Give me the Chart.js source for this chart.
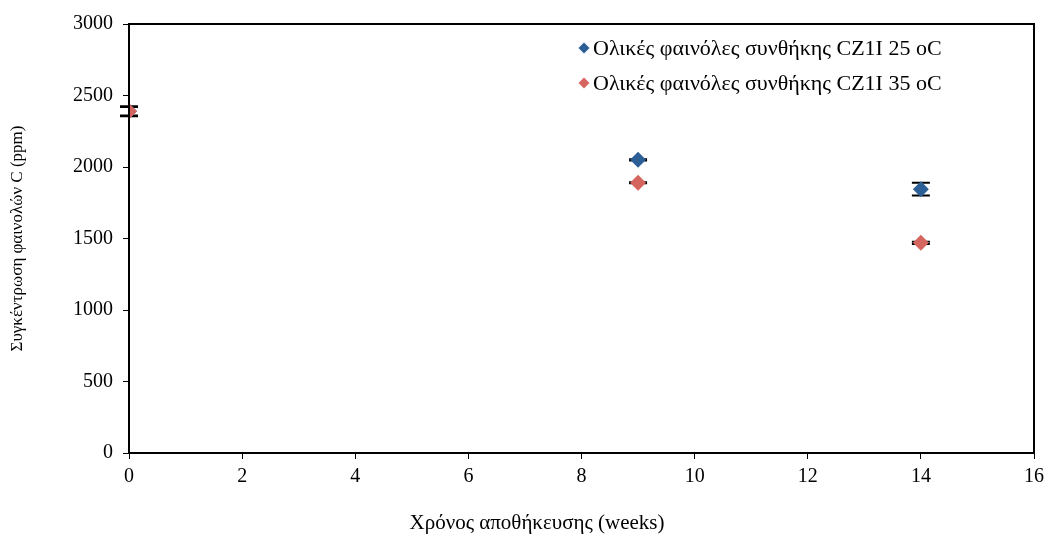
<!DOCTYPE html>
<html>
<head>
<meta charset="utf-8">
<script src="https://cdn.jsdelivr.net/npm/chart.js@4.4.1/dist/chart.umd.min.js"></script>
<style>
  html, body { margin: 0; padding: 0; background: #ffffff; }
  #wrap { width: 1047px; height: 538px; }
</style>
</head>
<body>
<div id="wrap"><canvas id="c" width="1047" height="538"></canvas></div>
<script>
// Storage time in weeks
const weeks = [0, 9, 14];
// Total phenols, condition CZ1I stored at 25 oC
const phenols25 = [2390, 2050, 1845];
const err25 = [35, 5, 45];
// Total phenols, condition CZ1I stored at 35 oC
const phenols35 = [2390, 1890, 1470];
const err35 = [30, 3, 8];

const labels25 = 'Ολικές φαινόλες συνθήκης CZ1I 25 oC';
const labels35 = 'Ολικές φαινόλες συνθήκης CZ1I 35 oC';
const xTitle = 'Χρόνος αποθήκευσης (weeks)';
const yTitle = 'Συγκέντρωση φαινολών C (ppm)';

const xTicks = [0, 2, 4, 6, 8, 10, 12, 14, 16];
const yTicks = [0, 500, 1000, 1500, 2000, 2500, 3000];

const FONT = 'Liberation Serif, Times New Roman, serif';

const toPoints = (xs, ys, es) => xs.map((x, i) => ({ x: x, y: ys[i], err: es[i] }));

// Vertical error bars with caps, drawn under the markers
const errorBars = {
  id: 'errorBars',
  beforeDatasetsDraw(chart) {
    const ctx = chart.ctx;
    const xs = chart.scales.x, ys = chart.scales.y;
    ctx.save();
    ctx.strokeStyle = '#000000';
    chart.data.datasets.forEach((ds) => {
      ds.data.forEach((p) => {
        const px = xs.getPixelForValue(p.x);
        const top = ys.getPixelForValue(p.y + p.err);
        const bot = ys.getPixelForValue(p.y - p.err);
        ctx.lineWidth = 1.5;
        ctx.beginPath();
        ctx.moveTo(px, top); ctx.lineTo(px, bot);
        ctx.stroke();
        ctx.lineWidth = 2;
        ctx.beginPath();
        ctx.moveTo(px - 9, top); ctx.lineTo(px + 9, top);
        ctx.moveTo(px - 9, bot); ctx.lineTo(px + 9, bot);
        ctx.stroke();
      });
    });
    ctx.restore();
  }
};

// Frame around the plot area, plus the horizontal axis caption
const frame = {
  id: 'frame',
  afterDraw(chart) {
    const a = chart.chartArea, ctx = chart.ctx;
    ctx.save();
    ctx.strokeStyle = '#000000';
    ctx.lineWidth = 2;
    ctx.strokeRect(a.left, a.top, a.right - a.left, a.bottom - a.top);
    ctx.fillStyle = '#000000';
    ctx.font = '21px ' + FONT;
    ctx.textAlign = 'center';
    ctx.textBaseline = 'middle';
    ctx.fillText(xTitle, 537, 523);
    ctx.restore();
  }
};

// Legend inside the plot, upper right
const innerLegend = {
  id: 'innerLegend',
  afterDraw(chart) {
    const ctx = chart.ctx;
    ctx.save();
    ctx.font = '22px ' + FONT;
    ctx.textBaseline = 'middle';
    ctx.textAlign = 'left';
    chart.data.datasets.forEach((ds, i) => {
      const y = 48 + i * 35;
      const mx = 584, r = 5.5;
      ctx.fillStyle = ds.backgroundColor;
      ctx.beginPath();
      ctx.moveTo(mx, y - r); ctx.lineTo(mx + r, y); ctx.lineTo(mx, y + r); ctx.lineTo(mx - r, y);
      ctx.closePath();
      ctx.fill();
      ctx.fillStyle = '#000000';
      ctx.fillText(ds.label, 593, y + 1);
    });
    ctx.restore();
  }
};

new Chart(document.getElementById('c'), {
  type: 'scatter',
  data: {
    datasets: [
      {
        label: labels25,
        data: toPoints(weeks, phenols25, err25),
        backgroundColor: '#2D5F97',
        borderColor: '#2D5F97',
        pointStyle: 'rectRot',
        pointRadius: 8,
        pointHoverRadius: 8,
        borderWidth: 0,
        order: 1
      },
      {
        label: labels35,
        data: toPoints(weeks, phenols35, err35),
        backgroundColor: '#D5665F',
        borderColor: '#D5665F',
        pointStyle: 'rectRot',
        pointRadius: 8,
        pointHoverRadius: 8,
        borderWidth: 0,
        order: 0
      }
    ]
  },
  options: {
    responsive: false,
    animation: false,
    layout: { padding: { left: 0, right: 13, top: 24, bottom: 0 } },
    plugins: {
      legend: { display: false },
      tooltip: { enabled: false }
    },
    scales: {
      x: {
        type: 'linear',
        min: 0, max: 16,
        afterBuildTicks(scale) { scale.ticks = xTicks.map(v => ({ value: v })); },
        afterFit(scale) {
          scale.height = 538 - 453;
          scale.paddingLeft = 0;
          scale.paddingRight = 0;
        },
        border: { display: true, color: '#000000', width: 2 },
        grid: { drawOnChartArea: false, drawTicks: true, tickLength: 6, color: '#000000', lineWidth: 1 },
        ticks: { color: '#000000', font: { family: FONT, size: 20 }, padding: 6, maxRotation: 0,
                 callback: (v) => String(v) },
        title: { display: false }
      },
      y: {
        type: 'linear',
        min: 0, max: 3000,
        afterBuildTicks(scale) { scale.ticks = yTicks.map(v => ({ value: v })); },
        afterFit(scale) {
          scale.width = 129;
          scale.paddingTop = 0;
          scale.paddingBottom = 0;
        },
        border: { display: true, color: '#000000', width: 2 },
        grid: { drawOnChartArea: false, drawTicks: true, tickLength: 6, color: '#000000', lineWidth: 1 },
        ticks: { color: '#000000', font: { family: FONT, size: 20 }, padding: 10,
                 callback: (v) => String(v) },
        title: {
          display: true,
          text: yTitle,
          color: '#000000',
          font: { family: FONT, size: 17 },
          padding: { top: 7, bottom: 0 }
        }
      }
    }
  },
  plugins: [errorBars, frame, innerLegend]
});
</script>
</body>
</html>
